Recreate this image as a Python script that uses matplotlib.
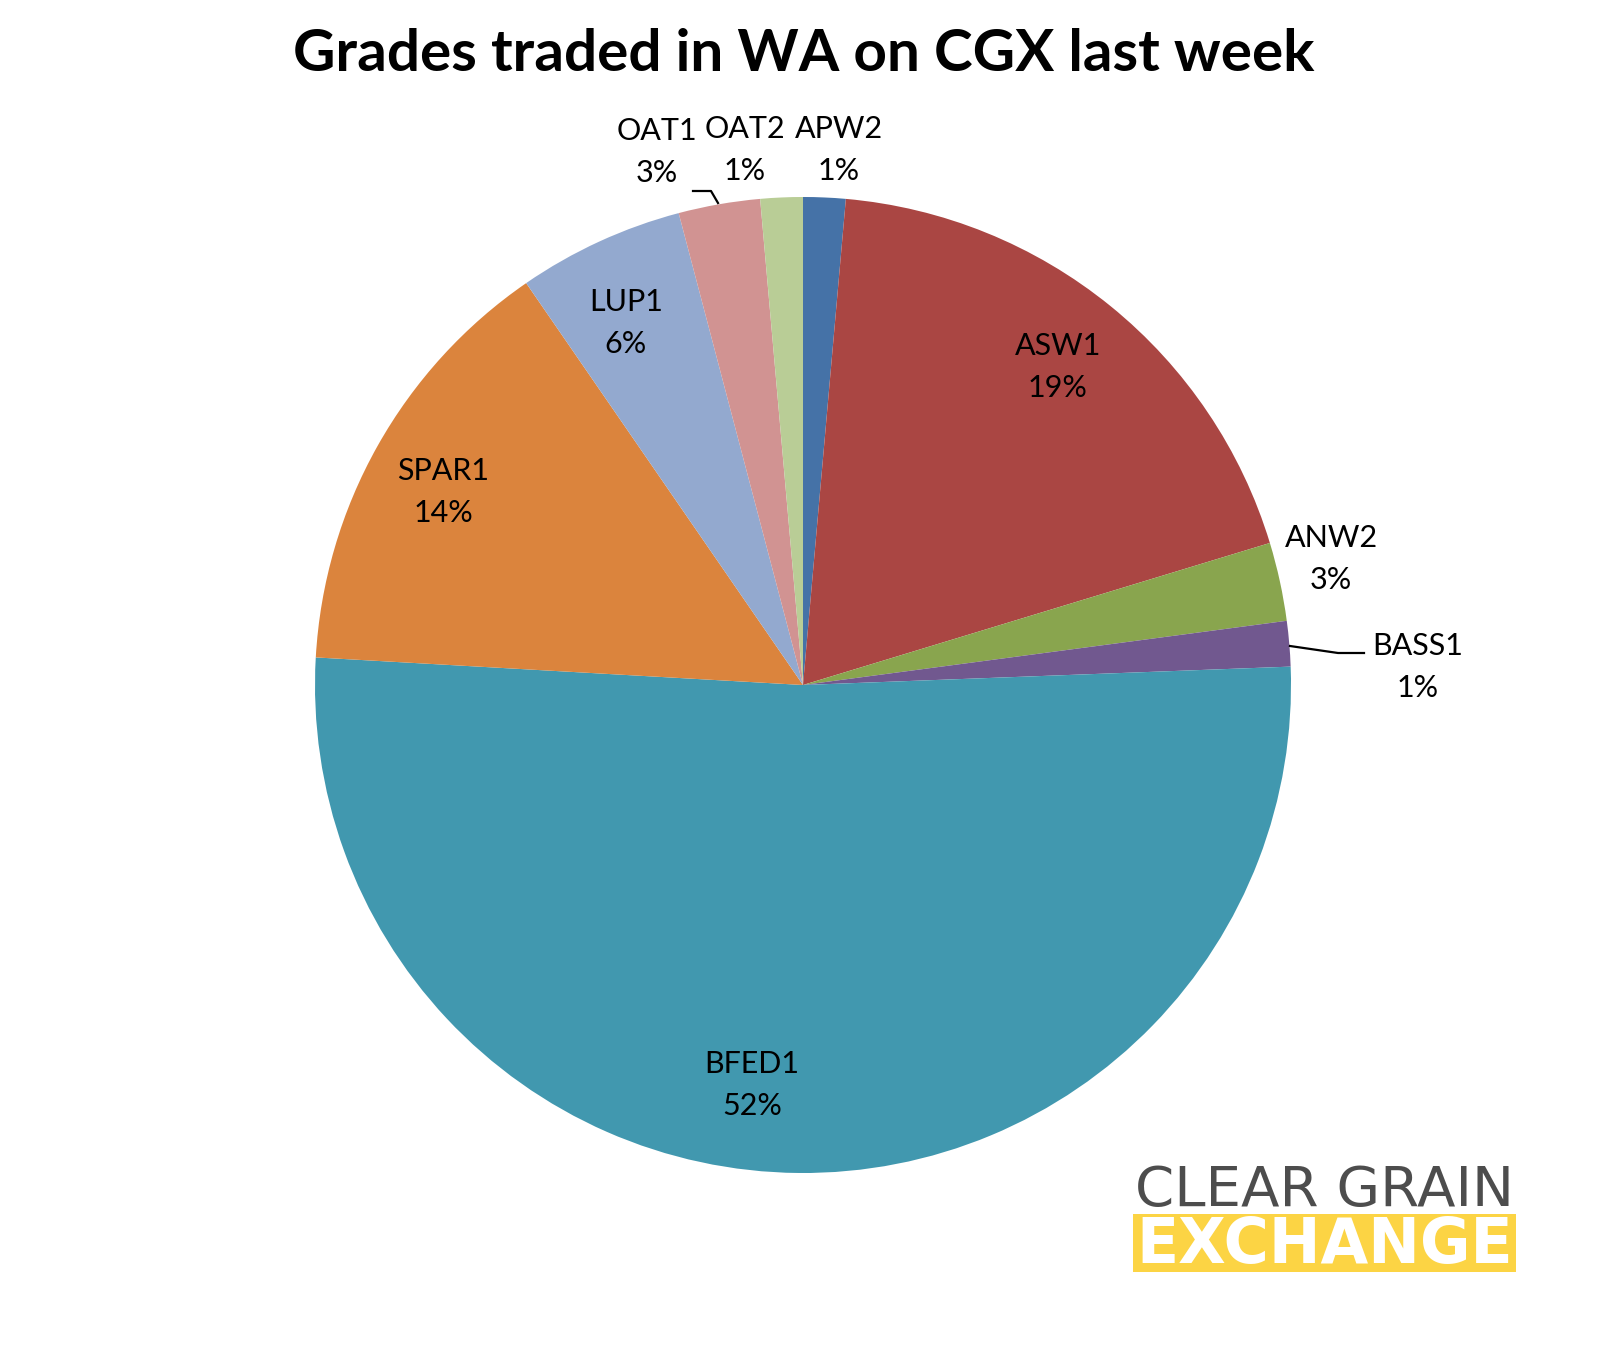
import matplotlib
matplotlib.use("Agg")
import matplotlib.pyplot as plt
from matplotlib.patches import Rectangle

# share of volume traded, clockwise from 12 o'clock
grades = ["APW2", "ASW1", "ANW2", "BASS1", "BFED1", "SPAR1", "LUP1", "OAT1", "OAT2"]
shares = [1.4, 18.9, 2.6, 1.5, 51.5, 14.5, 5.5, 2.7, 1.4]
pct_labels = ["1%", "19%", "3%", "1%", "52%", "14%", "6%", "3%", "1%"]
colors = ["#4572A7", "#AA4643", "#89A54E", "#71588F", "#4198AF",
          "#DB843D", "#93A9CF", "#D19392", "#B9CD96"]

# label spots in pixel coords (x, y from top)
label_pos = [(839, 150), (1058, 367), (1331, 559), (1418, 667), (752, 1085),
             (443, 492), (626, 323), (657, 152), (745, 150)]

W, H = 1608, 1352
fig = plt.figure(figsize=(W / 100, H / 100), dpi=100)
ax = fig.add_axes([0, 0, 1, 1])

cx, cy, r = 803, H - 685, 488
ax.pie(shares, colors=colors, startangle=90, counterclock=False,
       center=(cx, cy), radius=r, frame=True,
       wedgeprops=dict(linewidth=0))
ax.set_xlim(0, W)
ax.set_ylim(0, H)
ax.set_aspect("equal")
ax.axis("off")

font = "Lato"
for name, pct, (lx, ly) in zip(grades, pct_labels, label_pos):
    ax.text(lx, H - ly, name + "\n" + pct, ha="center", va="center",
            fontsize=22, family=font, linespacing=1.65, color="black")

# leader lines
ax.plot([693, 711, 718], [H - 191, H - 191, H - 203], color="black", lw=1.6)
ax.plot([1290, 1338, 1364], [H - 646, H - 653, H - 653], color="black", lw=1.6)

ax.text(804, H - 54, "Grades traded in WA on CGX last week", ha="center",
        va="center", fontsize=42, fontweight="bold", family=font)

# logo
ax.text(1325, H - 1191, "CLEAR GRAIN", ha="center", va="center",
        fontsize=40.5, color="#4D4D4D", family="DejaVu Sans")
ax.add_patch(Rectangle((1133, H - 1272), 383, 58, color="#FCD444", lw=0))
ax.text(1325, H - 1246, "EXCHANGE", ha="center", va="center",
        fontsize=44.5, color="white", fontweight="bold", family="DejaVu Sans")

fig.savefig("out.png", dpi=100)
